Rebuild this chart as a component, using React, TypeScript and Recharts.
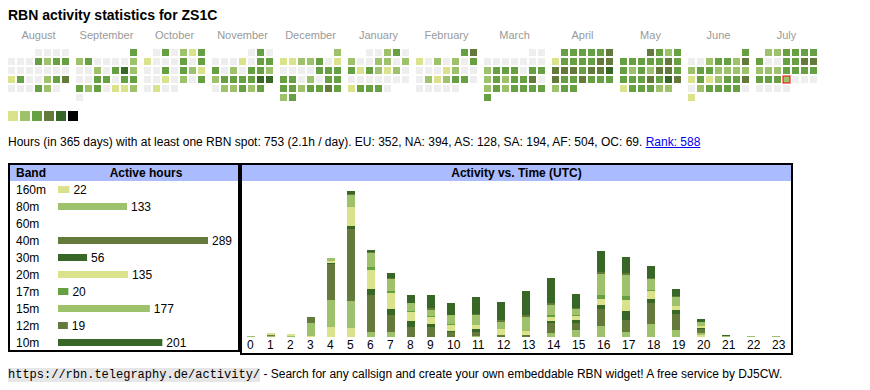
import { BarChart, Bar, XAxis, YAxis, Cell, LabelList, ScatterChart, Scatter } from 'recharts'

const FONT = '"Liberation Sans", Arial, Helvetica, sans-serif'

const CALLSIGN = 'ZS1C'
const MONTHS = ['August', 'September', 'October', 'November', 'December', 'January', 'February', 'March', 'April', 'May', 'June', 'July']
const FIRST_YEAR = 2024
const FIRST_MONTH = 7 // August
const TODAY_MONTH = 11
const TODAY_DAY = 24

// one digit per day, 0 = no spot, 1..6 = activity level; spaces only split the weeks
const DAY_LEVELS = [
  '0000 0003233 0000000 1300234 000320',
  '3 2300002 0020352 0033033 3230112 0',
  '030213 1000303 0030321 0010203 0100',
  '030 0001033 3020332 2333355 022323',
  '2 1122301 0000333 3302033 3323343 23',
  '00230 2002202 3132120 0000000 13330',
  '34 1020203 0001200 0212330 00000',
  '00 0000000 2333033 2323340 2323333 3',
  '333334 1333344 4443445 4334333 233',
  '4323 3333343 3232443 3334354 133322',
  '3 0023324 2332222 1312334 0233330 1',
  '223333 3003344 2223333 3332000 0000',
]

const LEVEL_COLORS = ['#eeeeee', '#dae28c', '#9ec26b', '#66a043', '#637a3a', '#386627', '#000000']

const BANDS = ['160m', '80m', '60m', '40m', '30m', '20m', '17m', '15m', '12m', '10m']
const BAND_HOURS = [22, 133, 0, 289, 56, 135, 20, 177, 19, 201]
const BAND_COLORS = ['#dae28c', '#9ec26b', '#66a043', '#637a3a', '#386627', '#dae28c', '#66a043', '#9ec26b', '#637a3a', '#386627']

const HOURS = ['0', '1', '2', '3', '4', '5', '6', '7', '8', '9', '10', '11', '12', '13', '14', '15', '16', '17', '18', '19', '20', '21', '22', '23']

// active hours per UTC hour, one array per band
const H160 = [0, 0, 0, 1, 10, 9, 0, 0, 0, 0, 0, 0, 0, 0, 0, 0, 0, 0, 0, 0, 2, 0, 0, 0]
const H80 = [1, 1, 1, 13, 27, 27, 5, 5, 0, 0, 0, 1, 0, 0, 4, 7, 11, 5, 13, 7, 2, 1, 1, 1]
const H60 = [0, 0, 0, 0, 0, 0, 0, 0, 0, 0, 0, 0, 0, 0, 0, 0, 0, 0, 0, 0, 0, 0, 0, 0]
const H40 = [0, 1, 0, 6, 36, 72, 37, 17, 10, 10, 5, 4, 2, 2, 10, 7, 17, 12, 21, 16, 4, 0, 0, 0]
const H30 = [0, 0, 0, 0, 1, 3, 6, 6, 6, 3, 1, 3, 0, 0, 2, 3, 4, 9, 4, 4, 1, 0, 0, 0]
const H20 = [0, 2, 2, 0, 2, 19, 19, 16, 9, 7, 6, 4, 6, 4, 4, 4, 6, 11, 8, 4, 2, 0, 0, 0]
const H17 = [0, 0, 0, 0, 0, 0, 3, 2, 1, 1, 1, 0, 0, 0, 2, 1, 4, 4, 1, 0, 0, 0, 0, 0]
const H15 = [0, 0, 0, 0, 3, 12, 14, 12, 8, 6, 9, 10, 7, 14, 10, 6, 21, 21, 11, 9, 4, 0, 0, 0]
const H12 = [0, 0, 0, 0, 0, 1, 1, 1, 0, 2, 0, 1, 2, 2, 2, 1, 2, 2, 1, 1, 0, 0, 0, 0]
const H10 = [0, 0, 0, 0, 0, 3, 2, 5, 8, 13, 12, 17, 18, 24, 25, 14, 21, 16, 12, 7, 3, 1, 0, 0]

const HOURLY = [H160, H80, H60, H40, H30, H20, H17, H15, H12, H10]

// the hour columns are as wide as their label, like the original html table
const hourPos: number[] = []
let acc = 0
HOURS.forEach((h) => {
  hourPos.push(acc + 4)
  acc += 15 + 5 * h.length
})
const posLabel = new Map(hourPos.map((p, i) => [p, HOURS[i]]))

const hourData = HOURS.map((h, i) => {
  const row: Record<string, number | string> = { hour: h, pos: hourPos[i] }
  BANDS.forEach((b, k) => { row[b] = HOURLY[k][i] })
  return row
})

const bandData = BANDS.map((band, i) => ({ band, hours: BAND_HOURS[i], color: BAND_COLORS[i] }))

function DayCell(props: any) {
  const { cx, cy, payload } = props
  return (
    <rect
      x={cx - 3.5}
      y={cy - 3.5}
      width={7}
      height={7}
      fill={LEVEL_COLORS[payload.level]}
      stroke={payload.today ? '#ff0000' : 'none'}
      strokeWidth={1}
    />
  )
}

function MonthGrid({ idx }: { idx: number }) {
  const year = FIRST_YEAR + Math.floor((FIRST_MONTH + idx) / 12)
  const month = (FIRST_MONTH + idx) % 12
  const offset = (new Date(year, month, 1).getDay() + 6) % 7 // weeks start on monday
  const cells = DAY_LEVELS[idx].replace(/ /g, '').split('').map((l, d) => ({
    col: (offset + d) % 7,
    row: Math.floor((offset + d) / 7),
    level: Number(l),
    today: idx === TODAY_MONTH && d + 1 === TODAY_DAY,
  }))
  const left = 7 + idx * 68
  return (
    <>
      <div style={{ position: 'absolute', left, top: 28.7, width: 63, textAlign: 'center', fontSize: 11, lineHeight: '13px', color: '#999' }}>
        {MONTHS[idx]}
      </div>
      <div style={{ position: 'absolute', left, top: 48 }}>
        <ScatterChart width={63} height={54} margin={{ top: 0, right: 0, bottom: 0, left: 0 }}>
          <XAxis type="number" dataKey="col" domain={[-0.5, 6.5]} hide />
          <YAxis type="number" dataKey="row" domain={[-0.5, 5.5]} reversed hide />
          <Scatter data={cells} shape={DayCell} isAnimationActive={false} />
        </ScatterChart>
      </div>
    </>
  )
}

function BandTick({ y, payload }: any) {
  return (
    <text x={6} y={y} dy={4.3} fontSize={12} fontFamily={FONT} fill="#000">
      {payload.value}
    </text>
  )
}

function HourTick({ x, y, payload }: any) {
  return (
    <text x={x - 4} y={y} dy={4.3} fontSize={12} fontFamily={FONT} fill="#000" textAnchor="start">
      {posLabel.get(payload.value)}
    </text>
  )
}

const box: React.CSSProperties = { position: 'absolute', border: '2px solid #000', boxSizing: 'border-box' }
const head: React.CSSProperties = { position: 'absolute', height: 16, lineHeight: '16px', background: '#aabbff', fontWeight: 'bold', fontSize: 12 }

export default function App() {
  const maxBand = Math.max(...BAND_HOURS)
  return (
    <div style={{ position: 'absolute', left: 0, top: 0, width: 870, height: 390, fontFamily: FONT, color: '#000', background: '#fff' }}>
      <div style={{ position: 'absolute', left: 8, top: 7, fontSize: 14, lineHeight: '16px', fontWeight: 'bold' }}>
        RBN activity statistics for {CALLSIGN}
      </div>

      {MONTHS.map((_, i) => (
        <MonthGrid key={i} idx={i} />
      ))}

      {/* level legend */}
      {LEVEL_COLORS.slice(1).map((c, i) => (
        <div key={c} style={{ position: 'absolute', left: 8 + i * 12, top: 111, width: 10, height: 10, background: c }} />
      ))}

      <div style={{ position: 'absolute', left: 8, top: 135, fontSize: 12, lineHeight: '14px', whiteSpace: 'nowrap' }}>
        Hours (in 365 days) with at least one RBN spot: 753 (2.1h / day). EU: 352, NA: 394, AS: 128, SA: 194, AF: 504, OC: 69.{' '}
        <a href="#" style={{ color: '#0000ee' }}>Rank: 588</a>
      </div>

      {/* bands table */}
      <div style={{ ...box, left: 8, top: 163, width: 232, height: 189 }} />
      <div style={{ ...head, left: 10, top: 165, width: 228 }}>
        <span style={{ position: 'absolute', left: 6 }}>Band</span>
        <span style={{ position: 'absolute', left: 44, width: 184, textAlign: 'center' }}>Active hours</span>
      </div>
      <div style={{ position: 'absolute', left: 10, top: 181 }}>
        <BarChart layout="vertical" width={228} height={170} data={bandData} margin={{ top: 0, right: 30, bottom: 0, left: 0 }}>
          <XAxis type="number" domain={[0, maxBand]} hide />
          <YAxis type="category" dataKey="band" width={48} axisLine={false} tickLine={false} tick={BandTick} interval={0} />
          <Bar dataKey="hours" barSize={7} isAnimationActive={false}>
            {bandData.map((d) => (
              <Cell key={d.band} fill={d.color} />
            ))}
            <LabelList
              dataKey="hours"
              position="right"
              offset={4}
              fill="#000"
              fontSize={12}
              fontFamily={FONT}
              formatter={(v: any) => (v ? v : '')}
            />
          </Bar>
        </BarChart>
      </div>

      {/* activity vs time */}
      <div style={{ ...box, left: 240, top: 163, width: 553, height: 192 }} />
      <div style={{ ...head, left: 242, top: 165, width: 549, textAlign: 'center' }}>Activity vs. Time (UTC)</div>
      <div style={{ position: 'absolute', left: 242, top: 181 }}>
        <BarChart width={549} height={172} data={hourData} margin={{ top: 0, right: 0, bottom: 0, left: 5 }}>
          <XAxis
            type="number"
            dataKey="pos"
            domain={[0, 544]}
            ticks={hourPos}
            interval={0}
            height={16}
            axisLine={false}
            tickLine={false}
            tick={HourTick}
          />
          <YAxis domain={[0, 156]} hide />
          {BANDS.map((b, k) => (
            <Bar key={b} dataKey={b} stackId="h" fill={BAND_COLORS[k]} barSize={8} isAnimationActive={false} />
          ))}
        </BarChart>
      </div>

      <div style={{ position: 'absolute', left: 8, top: 366, fontSize: 12, lineHeight: '16px', whiteSpace: 'nowrap' }}>
        <code style={{ fontFamily: '"Liberation Mono", monospace', fontSize: 12, background: '#e6e6e6' }}>https://rbn.telegraphy.de/activity/</code>
        {' '}- Search for any callsign and create your own embeddable RBN widget! A free service by DJ5CW.
      </div>
    </div>
  )
}
